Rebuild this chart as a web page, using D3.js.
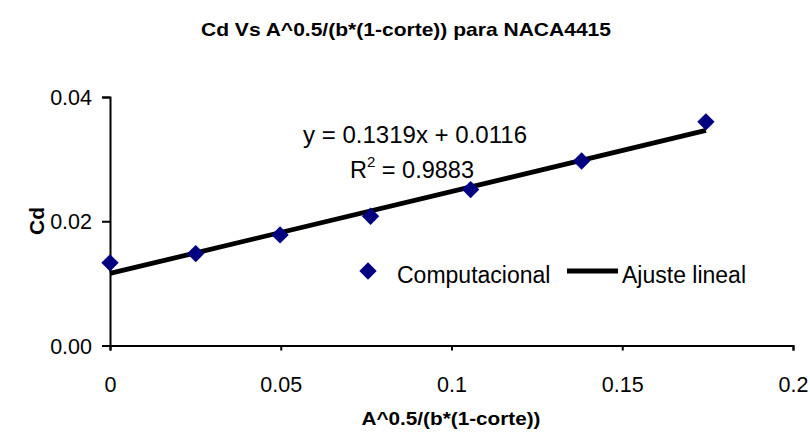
<!DOCTYPE html>
<html>
<head>
<meta charset="utf-8">
<script src="https://cdn.jsdelivr.net/npm/d3@7"></script>
<style>
  html, body { margin: 0; padding: 0; background: #fff; }
  svg { display: block; font-family: "Liberation Sans", Arial, sans-serif; }
</style>
</head>
<body>
<svg id="chart" width="810" height="439"></svg>
<script>
// Drag coefficient vs. A^0.5/(b*(1-corte)) for the NACA4415 profile
const xValues = [0, 0.0251, 0.0498, 0.0763, 0.1056, 0.1381, 0.1745];
const cdValues = [0.0133, 0.0148, 0.0178, 0.0208, 0.0251, 0.0297, 0.0360];

// Linear fit reported on the chart
const fitSlope = 0.1319;
const fitIntercept = 0.0116;
const fitR2 = 0.9883;

const xTicks = [0, 0.05, 0.1, 0.15, 0.2];
const xTickLabels = ["0", "0.05", "0.1", "0.15", "0.2"];
const yTicks = [0, 0.02, 0.04];
const yTickLabels = ["0.00", "0.02", "0.04"];

const svg = d3.select("#chart");

const x = d3.scaleLinear().domain([0, 0.2]).range([110, 793]);
const y = d3.scaleLinear().domain([0, 0.04]).range([345.5, 97]);

// Title (bold, slightly condensed)
svg.append("text")
  .attr("x", 406).attr("y", 36)
  .attr("text-anchor", "middle")
  .attr("font-weight", "bold")
  .attr("font-size", 19)
  .attr("textLength", 410)
  .attr("lengthAdjust", "spacingAndGlyphs")
  .text("Cd Vs A^0.5/(b*(1-corte)) para NACA4415");

// Axes
const xAxis = d3.axisBottom(x)
  .tickValues(xTicks)
  .tickFormat((d, i) => xTickLabels[i])
  .tickSize(5).tickSizeOuter(5).tickPadding(26);
const yAxis = d3.axisLeft(y)
  .tickValues(yTicks)
  .tickFormat((d, i) => yTickLabels[i])
  .tickSize(8).tickSizeOuter(8).tickPadding(10);

const gx = svg.append("g").attr("transform", `translate(0,${y(0)})`).call(xAxis);
const gy = svg.append("g").attr("transform", `translate(${x(0)},0)`).call(yAxis);

[gx, gy].forEach(g => {
  g.select(".domain").attr("stroke", "#000").attr("stroke-width", 2);
  g.selectAll(".tick line").attr("stroke", "#000").attr("stroke-width", 2);
  g.selectAll(".tick text")
    .attr("fill", "#000")
    .attr("font-family", "'Liberation Sans', Arial, sans-serif")
    .attr("font-size", 21.5);
});
gy.selectAll(".tick text").attr("dy", "0.35em");

// Axis titles
svg.append("text")
  .attr("x", 451).attr("y", 425)
  .attr("text-anchor", "middle")
  .attr("font-weight", "bold")
  .attr("font-size", 19)
  .attr("textLength", 179)
  .attr("lengthAdjust", "spacingAndGlyphs")
  .text("A^0.5/(b*(1-corte))");

svg.append("text")
  .attr("transform", "translate(44,221) rotate(-90)")
  .attr("text-anchor", "middle")
  .attr("font-weight", "bold")
  .attr("font-size", 21)
  .text("Cd");

// Trend line over the data range
const xMin = d3.min(xValues), xMax = d3.max(xValues);
svg.append("line")
  .attr("x1", x(xMin)).attr("y1", y(fitSlope * xMin + fitIntercept))
  .attr("x2", x(xMax)).attr("y2", y(fitSlope * xMax + fitIntercept))
  .attr("stroke", "#000").attr("stroke-width", 4.8);

// Data markers
const diamond = d3.symbol().type(d3.symbolSquare).size(150);
svg.append("g").selectAll("path")
  .data(xValues.map((v, i) => [v, cdValues[i]]))
  .join("path")
  .attr("d", diamond)
  .attr("transform", d => `translate(${x(d[0])},${y(d[1])}) rotate(45)`)
  .attr("fill", "#000080");

// Equation and R²
svg.append("text")
  .attr("x", 303).attr("y", 143)
  .attr("font-size", 23)
  .attr("textLength", 224)
  .attr("lengthAdjust", "spacingAndGlyphs")
  .text(`y = ${fitSlope}x + ${fitIntercept}`);

const r2 = svg.append("text").attr("x", 350).attr("y", 178).attr("font-size", 23.5);
r2.append("tspan").text("R");
r2.append("tspan").attr("font-size", 15).attr("dy", -11).text("2");
r2.append("tspan").attr("dy", 11).text(` = ${fitR2}`);

// Legend
const legend = svg.append("g");
legend.append("path")
  .attr("d", diamond)
  .attr("transform", "translate(368,271) rotate(45)")
  .attr("fill", "#000080");
legend.append("text").attr("x", 397).attr("y", 283).attr("font-size", 23).text("Computacional");
legend.append("line")
  .attr("x1", 567).attr("x2", 618).attr("y1", 271).attr("y2", 271)
  .attr("stroke", "#000").attr("stroke-width", 5);
legend.append("text").attr("x", 622).attr("y", 283).attr("font-size", 23).text("Ajuste lineal");
</script>
</body>
</html>
